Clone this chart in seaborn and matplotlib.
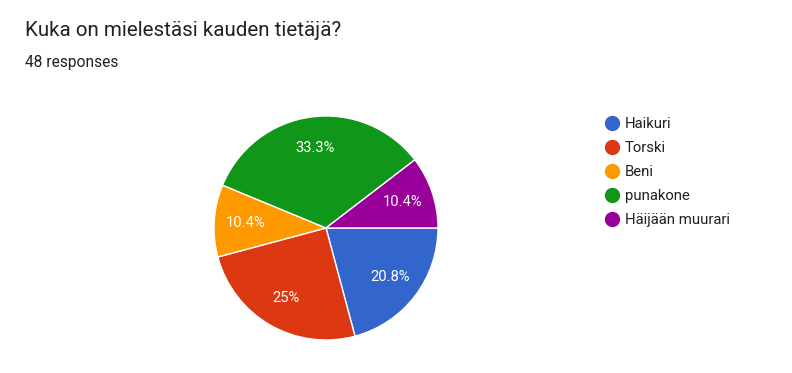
import matplotlib
matplotlib.use("Agg")
import matplotlib.pyplot as plt
from matplotlib.lines import Line2D
import seaborn as sns

categories = ["Haikuri", "Torski", "Beni", "punakone", "Häijään muurari"]
counts = [10, 12, 5, 16, 5]
colors = ["#3366cc", "#dc3912", "#ff9900", "#109618", "#990099"]
title = "Kuka on mielestäsi kauden tietäjä?"
subtitle = "48 responses"

sns.set_theme(style="white")
plt.rcParams['font.family'] = ['Roboto', 'DejaVu Sans']

W, H = 792, 373
fig = plt.figure(figsize=(W / 100, H / 100), dpi=100)
fig.patch.set_facecolor("white")

cx, cy, r = 326, 228, 112
ax = fig.add_axes([(cx - r) / W, (H - cy - r) / H, 2 * r / W, 2 * r / H])


def fmt(p):
    s = f"{p:.1f}"
    if s.endswith(".0"):
        s = s[:-2]
    return s + "%"


wedges, texts, autotexts = ax.pie(
    counts, colors=colors, startangle=0, counterclock=False,
    autopct=fmt, pctdistance=0.72, radius=1,
    wedgeprops=dict(edgecolor="white", linewidth=1),
    textprops=dict(color="white", fontsize=10.6),
)
ax.set_xlim(-1, 1)
ax.set_ylim(-1, 1)
ax.set_aspect("equal")
ax.axis("off")

fig.text(25 / W, 1 - 30 / H, title, fontsize=14.8, color="#202124", va="center", ha="left")
fig.text(25 / W, 1 - 63 / H, subtitle, fontsize=11.2, color="#202124", va="center", ha="left")

handles = [Line2D([0], [0], marker="o", linestyle="none", markersize=10,
                  markerfacecolor=c, markeredgecolor=c) for c in colors]
leg = fig.legend(handles, categories, loc="upper left",
                 bbox_to_anchor=(603 / W, 1 - 117.5 / H), frameon=False,
                 prop=dict(size=10.7),
                 handletextpad=0.3, labelspacing=0.665,
                 handlelength=1.15, borderaxespad=0, borderpad=0)
for t in leg.get_texts():
    t.set_color("#202124")

fig.savefig("out.png", dpi=100, facecolor="white")
